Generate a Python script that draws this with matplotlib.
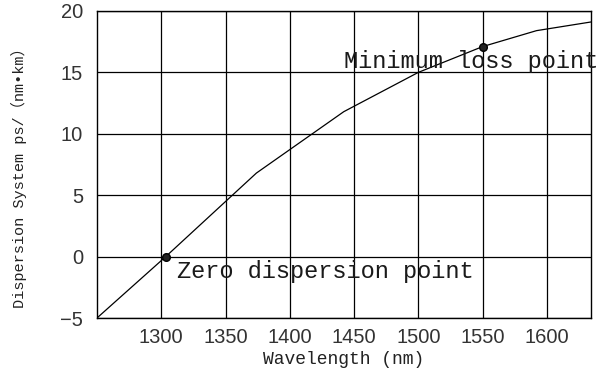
import matplotlib
matplotlib.use("Agg")
import matplotlib.pyplot as plt

# Data
wavelength = [1250, 1303.5, 1374, 1442, 1500, 1550, 1592, 1634]
dispersion = [-5.0, 0.0, 6.8, 11.8, 15.0, 17.1, 18.4, 19.1]
marked_x = [1303.5, 1550]
marked_y = [0.0, 17.1]
xticks = [1300, 1350, 1400, 1450, 1500, 1550, 1600]
yticks = [-5, 0, 5, 10, 15, 20]
annotations = ["Zero dispersion point", "Minimum loss point"]
annot_pos = [(1312, -1.75), (1442, 15.35)]

fig = plt.figure(figsize=(6.03, 3.75), dpi=100)
ax = fig.add_axes([97/603, 1-318/375, (590.5-97)/603, (318-11)/375])

ax.plot(wavelength, dispersion, color="black", lw=0.9)
ax.plot(marked_x, marked_y, "o", color="black", ms=5.5, mfc="#222222")

ax.set_xlim(1250, 1634)
ax.set_ylim(-5, 20)
ax.set_xticks(xticks)
ax.set_yticks(yticks)
ax.grid(True, color="black", lw=0.9)
ax.tick_params(length=0, labelsize=14.5)
ax.tick_params(axis="x", pad=7)
ax.tick_params(axis="y", pad=10)
for lbl in ax.get_xticklabels() + ax.get_yticklabels():
    lbl.set_fontfamily("Liberation Sans")
    lbl.set_color("#333333")
for s in ax.spines.values():
    s.set_color("black")
    s.set_linewidth(1.0)

mono = ["Liberation Mono", "Noto Sans CJK SC", "DejaVu Sans"]
ax.set_xlabel("Wavelength (nm)", family=mono, fontsize=13, labelpad=3, color="#222222")
ax.set_ylabel("Dispersion System ps/（nm•km）", family=mono, fontsize=11, color="#222222")
ax.yaxis.set_label_coords(-0.142, 0.47)

for txt, (x, y) in zip(annotations, annot_pos):
    ax.text(x, y, txt, family=mono, fontsize=17.0, color="#1a1a1a",
            ha="left", va="baseline", clip_on=False)

fig.savefig("out.png", dpi=100)
